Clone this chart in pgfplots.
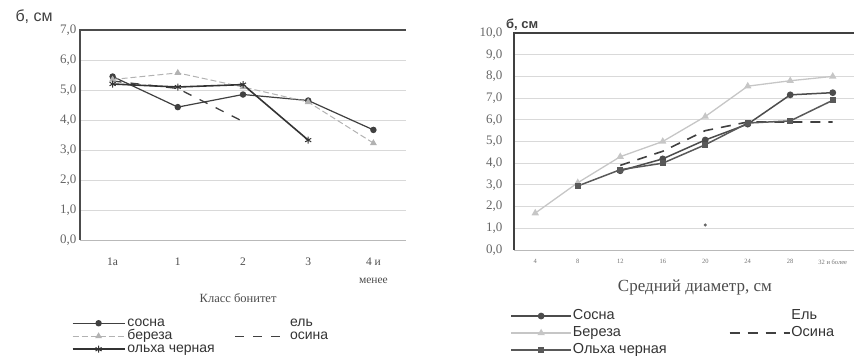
\documentclass[border=0pt]{standalone}
\usepackage{fontspec}
\setmainfont{Liberation Serif}
\setsansfont{Liberation Sans}
\usepackage{pgfplots}
\pgfplotsset{compat=1.18}
\begin{document}
\begin{tikzpicture}[x=1pt,y=1pt]
\useasboundingbox (0,0) rectangle (868,356);
\pgfplotsset{
  common/.style={
    scale only axis, anchor=south west,
    axis line style={draw=none},
    major tick length=0pt,
    ymajorgrids, grid style={gray!30, line width=0.8pt},
    clip=false,
    /pgf/number format/assume math mode=true,
    yticklabel style={/pgf/number format/fixed, /pgf/number format/fixed zerofill, /pgf/number format/precision=1, /pgf/number format/use comma},
    legend image code/.code={\draw[mark repeat=2,mark phase=2] plot coordinates {(0pt,0pt) (26pt,0pt) (52pt,0pt)};},
  }
}
% ---------------- left panel ----------------
\begin{axis}[common,
  at={(80pt,116pt)}, width=326pt, height=210pt,
  xmin=-0.5, xmax=4.5, ymin=0, ymax=7,
  ytick={0,1,...,7},
  xtick={0,1,2,3,4},
  xticklabels={1а,1,2,3,{4 и\\[5pt]менее}},
  xticklabel style={font=\fontsize{11.5}{13}\selectfont, text=black!70, align=center, yshift=-14pt},
  yticklabel style={font=\fontsize{13}{15}\selectfont, text=black!60},
  xlabel={Класс бонитет},
  xlabel style={at={(axis description cs:0.485,-0.276)}, anchor=center, font=\fontsize{12.5}{14}\selectfont, text=black!70},
  legend columns=2,
  legend style={at={(axis description cs:-0.035,-0.355)}, anchor=north west, draw=none, fill=none,
    font=\sffamily\fontsize{14}{15}\selectfont, text=black!80, row sep=0pt,
    nodes={inner sep=0pt, text height=9.5pt, text depth=3.5pt, anchor=west},
    /tikz/every even column/.append style={column sep=20pt},
    /tikz/every odd column/.append style={column sep=2pt}},
  after end axis/.code={
    \draw[black!70, line width=1.2pt] (rel axis cs:0,0) -- (rel axis cs:0,1) -- (rel axis cs:1,1);
    \draw[gray!55, line width=0.8pt] (rel axis cs:0,0) -- (rel axis cs:1,0);
    \node[font=\sffamily\fontsize{16}{16}\selectfont, text=black!75] at (axis description cs:-0.141,1.062) {б, см};
  },
]
\addplot[black!75, line width=1.2pt, mark=*, mark size=2.6pt] coordinates {(0,5.45) (1,4.43) (2,4.85) (3,4.65) (4,3.67)};
\addlegendentry{сосна}
\addlegendimage{empty legend}
\addlegendentry{ель}
\addplot[gray!60, line width=1pt, dash pattern=on 6pt off 3pt, mark=triangle*, mark size=3pt, mark options={solid, fill=gray!60}] coordinates {(0,5.35) (1,5.57) (2,5.1) (3,4.6) (4,3.23)};
\addlegendentry{береза}
\addplot[black!75, line width=1.3pt, dash pattern=on 9pt off 9pt] coordinates {(0,5.3) (1,5.05) (2,3.95)};
\addlegendentry{осина}
\addplot[black!80, line width=1.6pt, mark=asterisk, mark size=3.5pt, mark options={line width=1pt}] coordinates {(0,5.2) (1,5.1) (2,5.18) (3,3.33)};
\addlegendentry{ольха черная}
\end{axis}
% ---------------- right panel ----------------
\begin{axis}[common,
  at={(514pt,106pt)}, width=340pt, height=217pt,
  xmin=-0.5, xmax=7.5, ymin=0, ymax=10,
  ytick={0,1,...,10},
  xtick={0,1,...,7},
  xticklabels={4,8,12,16,20,24,28,32 и более},
  xticklabel style={font=\fontsize{6.5}{8}\selectfont, text=black!55, yshift=-6pt},
  yticklabel style={font=\fontsize{13}{15}\selectfont, text=black!60, xshift=-8pt},
  xlabel={Средний диаметр, см},
  xlabel style={at={(axis description cs:0.532,-0.175)}, anchor=center, font=\fontsize{17}{19}\selectfont, text=black!70},
  legend columns=2,
  legend style={at={(axis description cs:-0.02,-0.255)}, anchor=north west, draw=none, fill=none,
    font=\sffamily\fontsize{14.5}{15}\selectfont, text=black!80, row sep=0pt,
    nodes={inner sep=0pt, text height=11.5pt, text depth=5.5pt, anchor=west},
    /tikz/every even column/.append style={column sep=62pt},
    /tikz/every odd column/.append style={column sep=1pt}},
  legend image code/.code={\draw[mark repeat=2,mark phase=2] plot coordinates {(0pt,0pt) (30pt,0pt) (60pt,0pt)};},
  after end axis/.code={
    \draw[black!75, line width=1.2pt] (rel axis cs:0,0) -- (rel axis cs:0,1) -- (rel axis cs:1,1);
    \draw[gray!55, line width=0.8pt] (rel axis cs:0,0) -- (rel axis cs:1,0);
    \node[font=\sffamily\bfseries\fontsize{13}{14}\selectfont, text=black!75] at (axis description cs:0.024,1.037) {б, см};
  },
]
\addplot[black!70, line width=1.5pt, mark=*, mark size=2.6pt] coordinates {(2,3.65) (3,4.2) (4,5.07) (5,5.8) (6,7.15) (7,7.25)};
\addlegendentry{Сосна}
\addlegendimage{empty legend}
\addlegendentry{Ель}
\addplot[gray!45, line width=1.3pt, mark=triangle*, mark size=3pt, mark options={fill=gray!45}] coordinates {(0,1.7) (1,3.1) (2,4.3) (3,5.0) (4,6.15) (5,7.55) (6,7.8) (7,8.0)};
\addlegendentry{Береза}
\addplot[black!75, line width=1.6pt, dash pattern=on 10pt off 8pt] coordinates {(2,3.9) (3,4.55) (4,5.5) (5,5.9) (6,5.9) (7,5.9)};
\addlegendentry{Осина}
\addplot[black!65, line width=1.5pt, mark=square*, mark size=2.2pt] coordinates {(1,2.95) (2,3.7) (3,4.0) (4,4.85) (5,5.85) (6,5.95) (7,6.9)};
\addlegendentry{Ольха черная}
\addplot[forget plot, only marks, black!60, mark=*, mark size=1.3pt] coordinates {(4,1.15)};
\end{axis}
\end{tikzpicture}
\end{document}
